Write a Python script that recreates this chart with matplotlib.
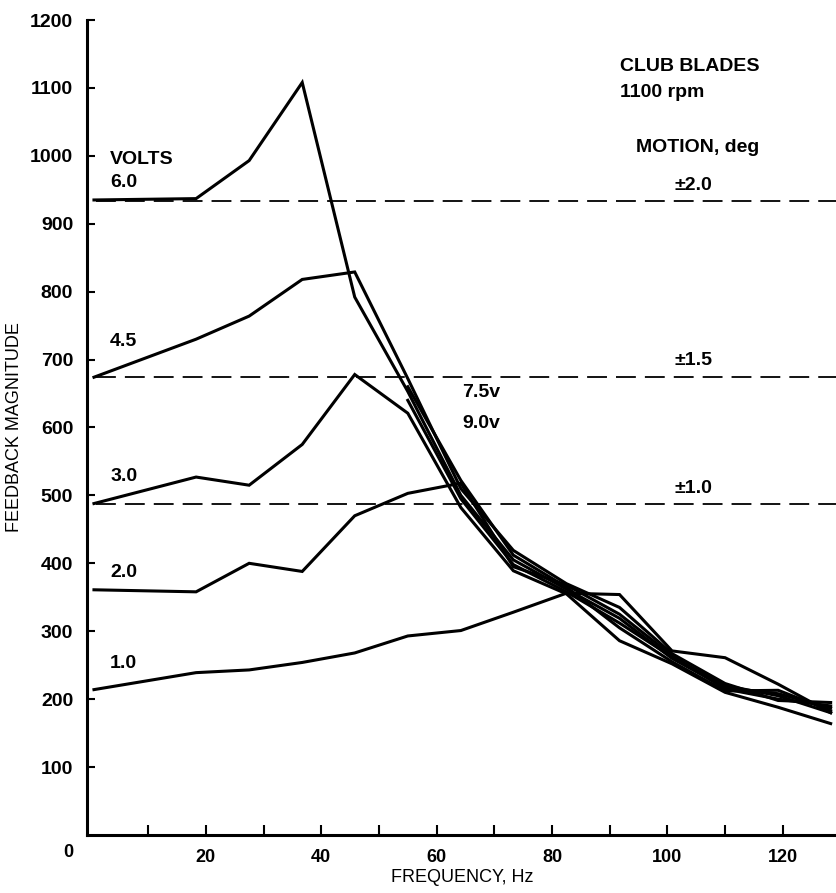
import matplotlib
matplotlib.use("Agg")
import matplotlib.pyplot as plt

# frequencies of the plotted harmonics (Hz)
freq = [0.6, 18.3, 27.5, 36.7, 45.8, 55.0, 64.2, 73.3, 82.5, 91.7, 100.8, 110.0, 119.2, 128.3]

v1_0 = [214, 239, 243, 254, 268, 293, 301, 328, 356, 354, 271, 261, 222, 180]
v2_0 = [361, 358, 400, 388, 470, 503, 518, 395, 368, 325, 264, 215, 200, 190]
v3_0 = [488, 527, 515, 575, 678, 621, 482, 389, 355, 286, 252, 210, 188, 164]
v4_5 = [674, 730, 764, 818, 829, 672, 510, 419, 370, 335, 267, 223, 198, 195]
v6_0 = [935, 937, 993, 1108, 792, 653, 500, 405, 362, 319, 260, 217, 208, 187]
# 7.5 v and 9.0 v only on scale from 55 Hz
freq_hi = freq[5:]
v7_5 = [660, 522, 412, 365, 305, 255, 212, 213, 183]
v9_0 = [640, 495, 398, 358, 312, 262, 220, 205, 180]

motion_levels = [933, 675, 487]
motion_labels = ["\u00b12.0", "\u00b11.5", "\u00b11.0"]

volt_labels = ["6.0", "4.5", "3.0", "2.0", "1.0"]
volt_label_y = [960, 727, 528, 386, 252]

FONT = ["Liberation Sans", "DejaVu Sans"]
NARROW = ["Liberation Sans Narrow", "Liberation Sans", "DejaVu Sans"]

fig = plt.figure(figsize=(8.37, 8.93), dpi=100)
ax = fig.add_axes([0.104, 0.065, 0.896, 0.9126])

for ys in [v1_0, v2_0, v3_0, v4_5, v6_0]:
    ax.plot(freq, ys, color="black", lw=2.2, solid_joinstyle="miter")
for ys in [v7_5, v9_0]:
    ax.plot(freq_hi, ys, color="black", lw=2.2, solid_joinstyle="miter")

for lev in motion_levels:
    ax.plot([1.0, 130], [lev, lev], color="black", lw=1.3, dashes=(11, 5))

ax.set_xlim(-0.6, 129.4)
ax.set_ylim(0, 1200)

for side in ["top", "right"]:
    ax.spines[side].set_visible(False)
for side in ["left", "bottom"]:
    ax.spines[side].set_linewidth(2.2)

ax.set_xticks(range(10, 130, 10))
ax.set_xticklabels([str(v) if v % 20 == 0 else "" for v in range(10, 130, 10)],
                   family=NARROW, fontsize=13, weight="bold")
ax.set_yticks(range(100, 1300, 100))
ax.set_yticklabels([str(v) for v in range(100, 1300, 100)],
                   family=FONT, fontsize=14, weight="bold")
ax.tick_params(axis="x", direction="in", length=7, width=1.5, pad=10)
ax.tick_params(axis="y", direction="in", length=6, width=1.5, pad=10)

ax.text(-3.9, -26, "0", family=NARROW, fontsize=13, weight="bold", ha="center", va="center")

ax.set_xlabel("FREQUENCY, Hz", family=NARROW, fontsize=13, labelpad=2)
ax.set_ylabel("FEEDBACK MAGNITUDE", family=NARROW, fontsize=13)
ax.yaxis.set_label_coords(-0.085, 0.5)

txt = dict(family=FONT, fontsize=14, weight="bold", va="center")
ax.text(3.4, 994, "VOLTS", ha="left", **txt)
for lab, y in zip(volt_labels, volt_label_y):
    ax.text(3.4, y, lab, ha="left", **txt)

ax.text(91.8, 1131, "CLUB BLADES", ha="left", **txt)
ax.text(91.8, 1093, "1100 rpm", ha="left", **txt)
ax.text(105.3, 1012, "MOTION, deg", ha="center", **txt)
for lab, lev in zip(motion_labels, motion_levels):
    ax.text(104.5, lev + 23, lab, ha="center", **txt)

ax.text(64.4, 652, "7.5v", ha="left", **txt)
ax.text(64.4, 606, "9.0v", ha="left", **txt)

fig.savefig("out.png", dpi=100)
